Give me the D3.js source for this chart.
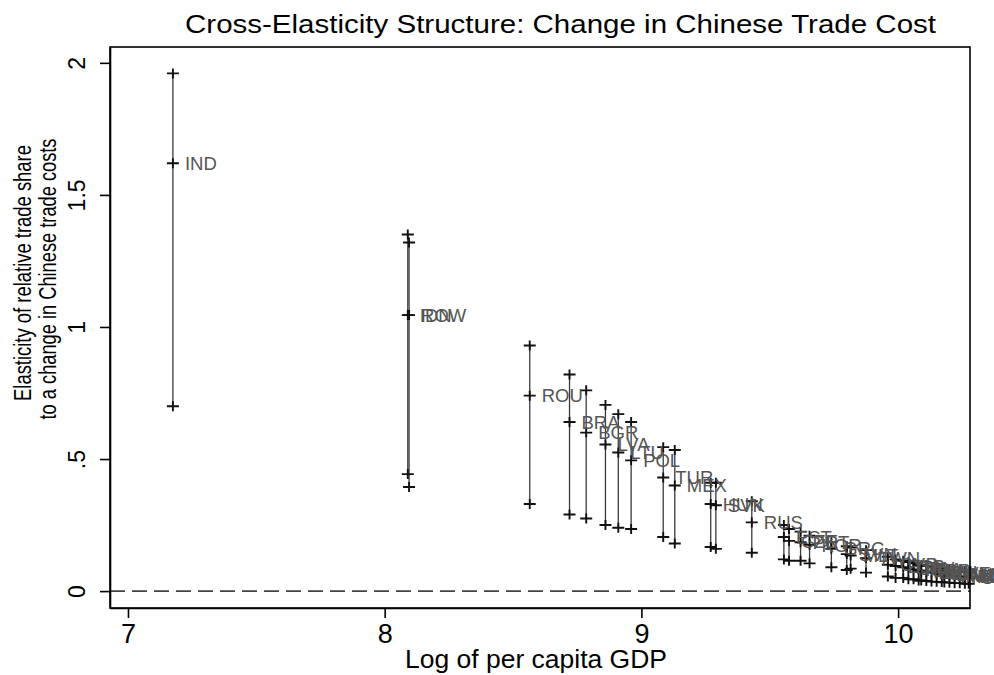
<!DOCTYPE html>
<html>
<head>
<meta charset="utf-8">
<script src="https://cdn.jsdelivr.net/npm/d3@7"></script>
<style>
  body { margin: 0; background: #fff; }
  svg { display: block; }
  text { font-family: "Liberation Sans", Arial, Helvetica, sans-serif; }
</style>
</head>
<body>
<svg id="chart" width="994" height="675"></svg>
<script>
// country codes, log per capita GDP, and the three elasticity points (high, mid, low)
var countries = ['IND', 'IDN', 'ROW', 'ROU', 'BRA', 'BGR', 'LVA', 'LTU', 'POL', 'TUR', 'MEX', 'HUN', 'SVK', 'RUS',
    'EST', 'CZE', 'PRT', 'KOR', 'GRC', 'SVN', 'MLT', 'TWN', 'CYP', 'ESP', 'ITA', 'JPN', 'FRA', 'GBR', 'FIN',
    'DEU', 'BEL', 'SWE', 'CAN', 'DNK', 'AUT', 'AUS', 'NLD', 'IRL', 'USA'];
var log_gdp = [7.175, 8.09, 8.095, 8.565, 8.72, 8.785, 8.86, 8.91, 8.96, 9.085, 9.13, 9.27, 9.29, 9.43,
    9.555, 9.575, 9.62, 9.655, 9.74, 9.80, 9.815, 9.875, 9.96, 9.99, 10.02, 10.04, 10.06, 10.08, 10.09,
    10.11, 10.13, 10.15, 10.17, 10.18, 10.20, 10.22, 10.24, 10.26, 10.275];
var elast_high = [1.96, 1.35, 1.32, 0.93, 0.82, 0.76, 0.705, 0.67, 0.64, 0.545, 0.534, 0.41, 0.41, 0.34,
    0.25, 0.235, 0.225, 0.21, 0.185, 0.17, 0.165, 0.155, 0.13, 0.12, 0.115, 0.11, 0.105, 0.10, 0.098,
    0.095, 0.09, 0.088, 0.085, 0.082, 0.08, 0.078, 0.075, 0.072, 0.07];
var elast_mid = [1.62, 1.045, 1.045, 0.74, 0.64, 0.60, 0.555, 0.525, 0.495, 0.43, 0.40, 0.33, 0.325, 0.26,
    0.205, 0.19, 0.185, 0.175, 0.16, 0.14, 0.135, 0.125, 0.10, 0.095, 0.09, 0.085, 0.082, 0.078, 0.075,
    0.072, 0.07, 0.068, 0.065, 0.062, 0.06, 0.058, 0.056, 0.054, 0.052];
var elast_low = [0.70, 0.443, 0.394, 0.33, 0.29, 0.275, 0.25, 0.24, 0.235, 0.205, 0.18, 0.167, 0.16, 0.145,
    0.12, 0.115, 0.115, 0.105, 0.09, 0.08, 0.085, 0.07, 0.055, 0.05, 0.05, 0.045, 0.045, 0.04, 0.04,
    0.038, 0.036, 0.035, 0.034, 0.033, 0.032, 0.03, 0.03, 0.028, 0.028];
var x_ticks = [7, 8, 9, 10];
var x_tick_labels = ['7', '8', '9', '10'];
var y_ticks = [0, 0.5, 1, 1.5, 2];
var y_tick_labels = ['0', '.5', '1', '1.5', '2'];

var svg = d3.select('#chart');
var plot_left = 110, plot_right = 970, plot_top = 47, plot_bottom = 608;

var x = d3.scaleLinear().domain([6.93, 10.28]).range([plot_left, plot_right]);
var y = d3.scaleLinear().domain([-0.064, 2.06]).range([plot_bottom, plot_top]);

var rows = countries.map(function (c, i) {
    return { code: c, gdp: log_gdp[i], hi: elast_high[i], mid: elast_mid[i], lo: elast_low[i] };
});

// title
svg.append('text')
    .attr('x', 185).attr('y', 33)
    .attr('font-size', 26)
    .attr('textLength', 751).attr('lengthAdjust', 'spacingAndGlyphs')
    .text('Cross-Elasticity Structure: Change in Chinese Trade Cost');

// zero reference line
svg.append('line')
    .attr('x1', plot_left).attr('x2', plot_right)
    .attr('y1', y(0)).attr('y2', y(0))
    .attr('stroke', '#444').attr('stroke-width', 1.6)
    .attr('stroke-dasharray', '15,7');

// spikes
svg.append('g').selectAll('line')
    .data(rows)
    .enter().append('line')
    .attr('x1', function (d) { return x(d.gdp); })
    .attr('x2', function (d) { return x(d.gdp); })
    .attr('y1', function (d) { return y(d.hi); })
    .attr('y2', function (d) { return y(d.lo); })
    .attr('stroke', '#3a3a3a').attr('stroke-width', 1.3);

// plus markers at high, mid and low
var pts = [];
rows.forEach(function (d) {
    pts.push([d.gdp, d.hi], [d.gdp, d.mid], [d.gdp, d.lo]);
});
svg.append('g').selectAll('path')
    .data(pts)
    .enter().append('path')
    .attr('d', function (p) {
        var px = x(p[0]), py = y(p[1]);
        return 'M' + (px - 6) + ',' + py + 'H' + (px + 6) + 'M' + px + ',' + (py - 5) + 'V' + (py + 5);
    })
    .attr('stroke', '#111').attr('stroke-width', 1.9).attr('fill', 'none');

// country labels
svg.append('g').selectAll('text')
    .data(rows)
    .enter().append('text')
    .attr('x', function (d) { return x(d.gdp) + 12; })
    .attr('y', function (d) { return y(d.mid); })
    .attr('dy', '0.36em')
    .attr('font-size', 18.5)
    .attr('fill', '#555')
    .text(function (d) { return d.code; });

// frame
svg.append('rect')
    .attr('x', plot_left).attr('y', plot_top)
    .attr('width', plot_right - plot_left).attr('height', plot_bottom - plot_top)
    .attr('fill', 'none').attr('stroke', '#000').attr('stroke-width', 1.6);

// x axis
var xAxis = svg.append('g')
    .attr('transform', 'translate(0,' + plot_bottom + ')')
    .call(d3.axisBottom(x).tickValues(x_ticks).tickSize(10).tickSizeOuter(0)
        .tickFormat(function (d, i) { return x_tick_labels[i]; }));
xAxis.select('.domain').attr('stroke-width', 1.6);
xAxis.selectAll('.tick line').attr('stroke-width', 1.6);
xAxis.selectAll('.tick text')
    .attr('y', 35).attr('dy', 0)
    .attr('font-size', 27).attr('fill', '#000')
    .attr('font-family', '"Liberation Sans", Arial, sans-serif');

// y axis
var yAxis = svg.append('g')
    .attr('transform', 'translate(' + plot_left + ',0)')
    .call(d3.axisLeft(y).tickValues(y_ticks).tickSize(10).tickSizeOuter(0)
        .tickFormat(function (d, i) { return y_tick_labels[i]; }));
yAxis.select('.domain').attr('stroke-width', 1.6);
yAxis.selectAll('.tick line').attr('stroke-width', 1.6);
yAxis.selectAll('.tick text')
    .attr('x', null).attr('dy', null)
    .attr('transform', 'translate(-25,0) rotate(-90)')
    .attr('text-anchor', 'middle')
    .attr('font-size', 23).attr('fill', '#000')
    .attr('font-family', '"Liberation Sans", Arial, sans-serif');

// axis titles
svg.append('text')
    .attr('x', 536).attr('y', 668)
    .attr('text-anchor', 'middle')
    .attr('font-size', 25)
    .attr('textLength', 262).attr('lengthAdjust', 'spacingAndGlyphs')
    .text('Log of per capita  GDP');

svg.append('text')
    .attr('transform', 'translate(31,273) rotate(-90)')
    .attr('text-anchor', 'middle')
    .attr('font-size', 23.5)
    .attr('textLength', 256).attr('lengthAdjust', 'spacingAndGlyphs')
    .text('Elasticity of relative trade share');
svg.append('text')
    .attr('transform', 'translate(56,279) rotate(-90)')
    .attr('text-anchor', 'middle')
    .attr('font-size', 23.5)
    .attr('textLength', 281).attr('lengthAdjust', 'spacingAndGlyphs')
    .text('to a change in Chinese trade costs');
</script>
</body>
</html>
